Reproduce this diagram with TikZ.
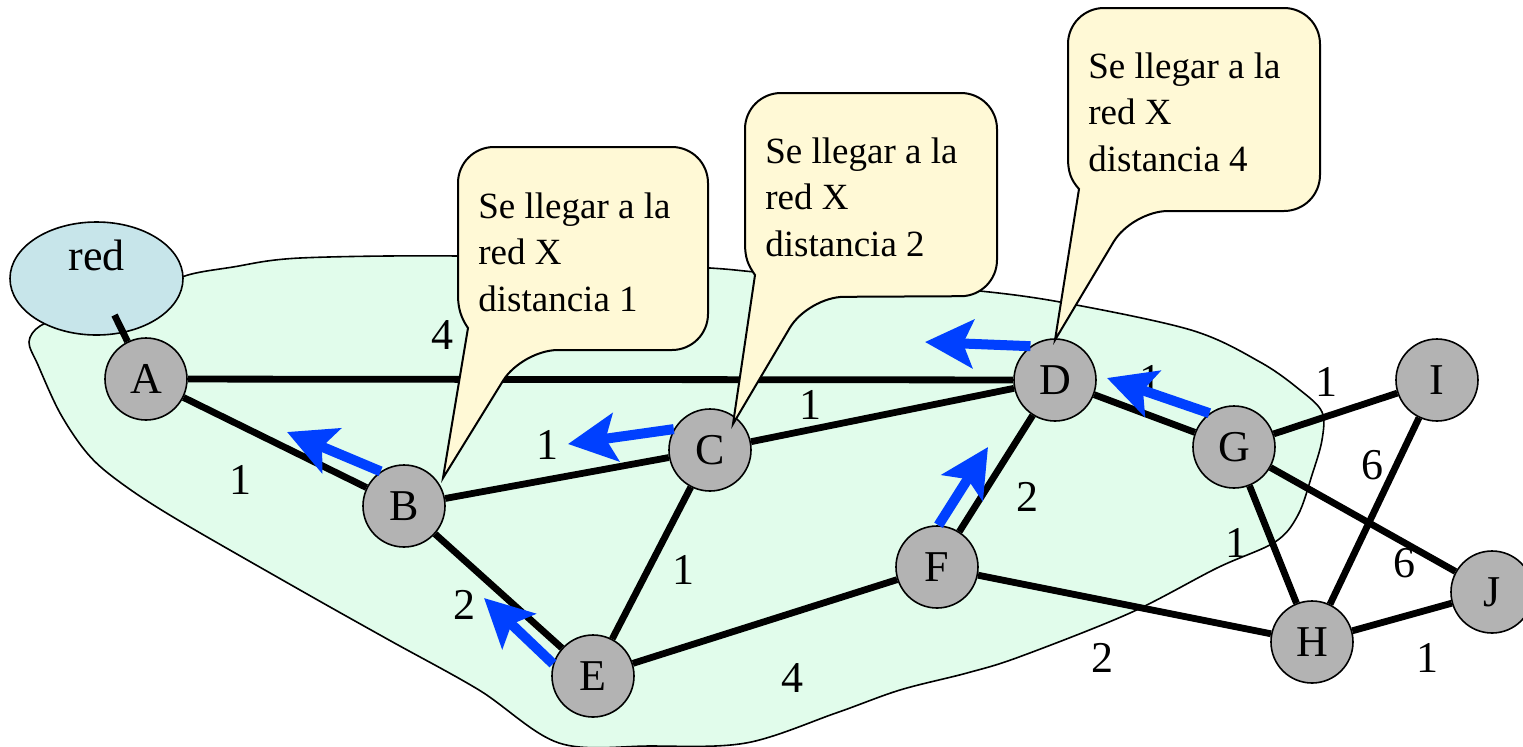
\documentclass[tikz,border=0pt]{standalone}
\usepackage{fontspec}
\setmainfont{Liberation Serif}
\usetikzlibrary{arrows.meta,shapes.geometric}
\definecolor{blobfill}{HTML}{E1FCEB}
\definecolor{redfill}{HTML}{C7E5EA}
\definecolor{nodegray}{HTML}{B3B3B3}
\definecolor{callfill}{HTML}{FFF9D6}
\definecolor{arrblue}{HTML}{0040FF}
\begin{document}
\begin{tikzpicture}[x=0.5pt,y=-0.5pt,
  gnode/.style={circle,draw,fill=nodegray,line width=0.8pt,minimum size=41pt,inner sep=0pt,font=\fontsize{22}{26}\selectfont},
  edge/.style={line width=3.4pt},
  wlabel/.style={font=\fontsize{22}{26}\selectfont,inner sep=0pt},
  route/.style={draw=arrblue,line width=5pt,-{Stealth[length=24pt,width=24pt,inset=5pt]}},
  callout/.style={draw,fill=callfill,line width=1pt,line join=miter},
  calltext/.style={anchor=west,align=left,inner sep=0pt,font=\fontsize{18.5}{23.25}\selectfont},
]
\useasboundingbox (0,0) rectangle (1523,746);

% area
\draw[fill=blobfill,line width=0.8pt] plot[smooth cycle,tension=0.55] coordinates {
 (182,277) (233,267) (300,258) (457,256) (600,262) (710,268) (755,272) (860,282)
 (970,290) (1060,302) (1191,330) (1260,362) (1300,390) (1322,412) (1322,440)
 (1312,475) (1298,515) (1275,542) (1217,568) (1130,613) (1019,657) (967,673)
 (900,690) (836,713) (746,743) (650,746) (559,743) (479,690) (389,640) (300,590)
 (173,517) (117,480) (87,453) (60,413) (38,365) (29,342) (40,326) (70,316) (150,300)};

% nodes
\node[ellipse,draw,fill=redfill,line width=0.8pt,minimum width=86.5pt,minimum height=56.5pt,inner sep=0pt,text height=10pt,text depth=18pt,font=\fontsize{22}{26}\selectfont] (red) at (96.5,278.5) {red};
\node[gnode] (A) at (146,379) {A};
\node[gnode] (B) at (404,506) {B};
\node[gnode] (C) at (710,450) {C};
\node[gnode] (D) at (1055,380) {D};
\node[gnode] (E) at (593,676) {E};
\node[gnode] (F) at (937,567) {F};
\node[gnode] (G) at (1234,447) {G};
\node[gnode] (H) at (1312,642) {H};
\node[gnode] (I) at (1437,380) {I};
\node[gnode] (J) at (1492,592) {J};

% edges
\draw[edge,shorten <=-10pt] (red) -- (A);
\draw[edge] (A) -- (D);
\draw[edge] (A) -- (B);
\draw[edge] (B) -- (C);
\draw[edge] (C) -- (D);
\draw[edge] (B) -- (E);
\draw[edge] (C) -- (E);
\draw[edge] (E) -- (F);
\draw[edge] (F) -- (D);
\draw[edge] (F) -- (H);
\draw[edge] (D) -- (G);
\draw[edge] (G) -- (I);
\draw[edge] (G) -- (J);
\draw[edge] (G) -- (H);
\draw[edge] (H) -- (I);
\draw[edge] (H) -- (J);

% weights
\node[wlabel] (wAD) at (442,335) {4};
\node[wlabel] (wAB) at (240,480) {1};
\node[wlabel] (wBC) at (547,445) {1};
\node[wlabel] (wCD) at (810,405) {1};
\node[wlabel] (wBE) at (464,605) {2};
\node[wlabel] (wCE) at (683,570) {1};
\node[wlabel] (wEF) at (792,678) {4};
\node[wlabel] (wDF) at (1027,497) {2};
\node[wlabel] (wFH) at (1102,658) {2};
\node[wlabel] (wDG) at (1150,380) {1};
\node[wlabel] (wGI) at (1326,382) {1};
\node[wlabel] (wHI) at (1372,465) {6};
\node[wlabel] (wGJ) at (1404,563) {6};
\node[wlabel] (wGH) at (1236,543) {1};
\node[wlabel] (wHJ) at (1427,658) {1};

% routing arrows
\coordinate (tB) at (287,432);
\coordinate (tC) at (568,444);
\coordinate (tD) at (925,342);
\coordinate (tG) at (1107,378);
\coordinate (tF) at (988,447);
\coordinate (tE) at (484,598);
\draw[route] (B.124) -- (tB);
\draw[route] (C.150) -- (tC);
\draw[route] (D.126) -- (tD);
\draw[route] (G.126) -- (tG);
\draw[route] (F.88) -- (tF);
\draw[route] (E.163) -- (tE);

% callouts
\coordinate (p1) at (443,478);
\coordinate (p2) at (733,424);
\coordinate (p3) at (1055,340);
\path[callout] (600,147) [rounded corners=18pt] -- (708,147) -- (708,350) -- (522,350)
  [sharp corners] -- (p1) -- (468,328) .. controls (461,318) and (458,308) .. (458,295)
  [rounded corners=18pt] -- (458,147) -- cycle;
\node[calltext] (t1) at (478,252) {Se llegar a la\\red X\\distancia 1};

\path[callout] (870,93) [rounded corners=18pt] -- (997,93) -- (997,296) -- (808,297)
  [sharp corners] -- (p2) -- (755,275) .. controls (748,265) and (745,258) .. (745,243)
  [rounded corners=18pt] -- (745,93) -- cycle;
\node[calltext] (t2) at (765,197) {Se llegar a la\\red X\\distancia 2};

\path[callout] (1190,8) [rounded corners=18pt] -- (1320,8) -- (1320,211) -- (1132,211)
  [sharp corners] -- (p3) -- (1079,189) .. controls (1071,180) and (1068,172) .. (1068,158)
  [rounded corners=18pt] -- (1068,8) -- cycle;
\node[calltext] (t3) at (1088,112) {Se llegar a la\\red X\\distancia 4};
\end{tikzpicture}
\end{document}
